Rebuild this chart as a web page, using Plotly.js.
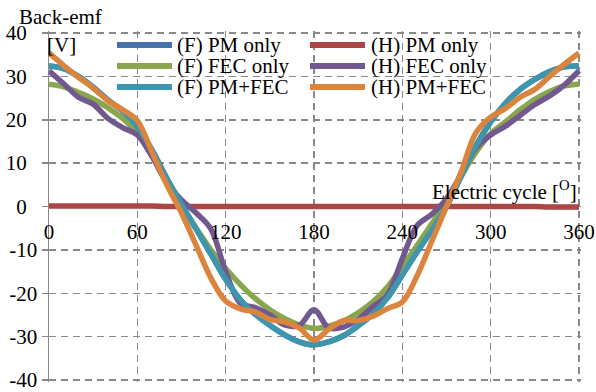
<!DOCTYPE html>
<html>
<head>
<meta charset="utf-8">
<script src="https://cdn.plot.ly/plotly-3.0.1.min.js"></script>
<style>
  html, body { margin: 0; padding: 0; background: #fff; }
  #chart { width: 596px; height: 392px; }
</style>
</head>
<body>
<div id="chart"></div>
<script>
// Electrical angle samples (degrees)
const angle = [0, 10, 20, 30, 40, 50, 60, 70, 80, 90, 100, 110, 120, 130, 140, 150, 160, 170, 180,
               190, 200, 210, 220, 230, 240, 250, 260, 270, 280, 290, 300, 310, 320, 330, 340, 350, 360];

// Back-emf [V] for each configuration
const fPmOnly   = [32.4, 31.8, 30.0, 27.5, 24.6, 22.0, 18.4, 13.0, 6.5, 0.5, -5.2, -11.0, -16.8, -21.5, -24.8, -27.4, -29.6, -31.2, -31.9,
                   -31.2, -29.8, -27.5, -24.8, -21.0, -15.8, -10.5, -5.5, 0.0, 7.0, 14.0, 19.5, 23.8, 27.0, 29.3, 31.1, 32.2, 32.4];
const hPmOnly   = [0.1, 0.1, 0.1, 0.1, 0.1, 0.1, 0.1, 0.1, 0.0, 0.0, 0.0, 0.0, 0.0, 0.0, 0.0, 0.0, 0.0, 0.0, 0.0,
                   0.0, 0.0, 0.0, 0.0, 0.0, 0.0, 0.0, 0.0, 0.0, 0.0, 0.0, 0.0, 0.0, 0.0, 0.0, -0.1, -0.1, -0.1];
const fFecOnly  = [28.2, 27.6, 26.3, 24.8, 22.8, 20.3, 17.0, 11.8, 6.0, 0.0, -5.0, -10.0, -14.3, -18.0, -21.2, -23.8, -25.8, -27.3, -28.1,
                   -27.6, -26.4, -24.5, -22.0, -18.5, -13.8, -9.0, -4.0, 1.2, 7.0, 12.5, 16.8, 19.5, 22.3, 24.7, 26.5, 27.8, 28.2];
const hFecOnly  = [31.3, 28.3, 25.2, 23.6, 20.3, 18.2, 16.5, 11.5, 5.5, 1.5, -1.5, -5.2, -15.0, -22.3, -23.3, -25.0, -27.3, -27.4, -23.8,
                   -28.0, -27.8, -26.0, -23.1, -20.3, -12.0, -4.4, -1.8, 1.8, 7.5, 13.5, 16.5, 18.5, 21.0, 23.5, 25.5, 28.0, 31.3];
const fPmFec    = [32.4, 31.8, 30.0, 27.5, 24.6, 22.0, 18.4, 13.0, 6.5, 0.5, -5.2, -11.0, -16.8, -21.5, -24.8, -27.4, -29.6, -31.2, -31.9,
                   -31.2, -29.8, -27.5, -24.8, -21.0, -15.8, -10.5, -5.5, 0.0, 7.0, 14.0, 19.5, 23.8, 27.0, 29.3, 31.1, 32.2, 32.4];
const hPmFec    = [35.4, 32.5, 29.8, 27.3, 24.4, 22.3, 19.8, 12.5, 5.0, -1.5, -9.0, -16.5, -21.8, -23.6, -24.3, -26.0, -26.6, -28.0, -30.8,
                   -28.3, -26.3, -26.3, -25.3, -23.5, -22.0, -16.0, -8.0, 0.0, 8.0, 17.0, 20.6, 22.6, 25.2, 27.0, 30.0, 32.8, 35.4];

const seriesNames  = ['(F) PM only', '(H) PM only', '(F) FEC only', '(H) FEC only', '(F) PM+FEC', '(H) PM+FEC'];
const seriesValues = [fPmOnly, hPmOnly, fFecOnly, hFecOnly, fPmFec, hPmFec];
const seriesColors = ['#4572A7', '#AA4643', '#89A54E', '#71588F', '#3D96AE', '#DB843D'];

const xTicks = [0, 60, 120, 180, 240, 300, 360];
const xTickText = ['0', '60', '120', '180', '240', '300', '360'];
const yTicks = [-40, -30, -20, -10, 0, 10, 20, 30, 40];
// non-negative labels carry a trailing pad, like an accounting number format
const yTickText = ['-40', '-30', '-20', '-10', '0\u00a0\u00a0', '10\u00a0\u00a0', '20\u00a0\u00a0', '30\u00a0\u00a0', '40\u00a0\u00a0'];

const FONT = '"Liberation Serif", "Times New Roman", serif';
const GRID = '#888888';
const DASH = '7px,5px';

const traces = seriesNames.map((name, i) => ({
  x: angle,
  y: seriesValues[i],
  name: name,
  type: 'scatter',
  mode: 'lines',
  line: { color: seriesColors[i], width: 5.5, shape: 'spline', smoothing: 1 },
  showlegend: false,
  hoverinfo: 'skip'
}));

// Dashed frame along the outer gridlines (top, bottom, right)
const frameShapes = [
  { type: 'line', layer: 'below', xref: 'paper', yref: 'y', x0: 0, x1: 1, y0: yTicks[yTicks.length - 1], y1: yTicks[yTicks.length - 1],
    line: { color: GRID, width: 1.5, dash: DASH } },
  { type: 'line', layer: 'below', xref: 'paper', yref: 'y', x0: 0, x1: 1, y0: yTicks[0], y1: yTicks[0],
    line: { color: GRID, width: 1.5, dash: DASH } },
  { type: 'line', layer: 'below', xref: 'x', yref: 'paper', x0: xTicks[xTicks.length - 1], x1: xTicks[xTicks.length - 1], y0: 1, y1: 0,
    line: { color: GRID, width: 1.5, dash: DASH } }
];

// Two-column key: line swatch + label per series
const keyShapes = [];
const keyLabels = [];
const colX = [[0.1278, 0.2312, 0.2368], [0.4906, 0.5940, 0.6015]];
const rowY = [0.9601, 0.9003, 0.8405];
seriesNames.forEach((name, i) => {
  const c = colX[i % 2];
  const r = rowY[Math.floor(i / 2)];
  keyShapes.push({
    type: 'line', xref: 'paper', yref: 'paper',
    x0: c[0], x1: c[1], y0: r, y1: r,
    line: { color: seriesColors[i], width: 6 }
  });
  keyLabels.push({
    xref: 'paper', yref: 'paper', x: c[2], y: r,
    xanchor: 'left', yanchor: 'middle', showarrow: false,
    text: name, font: { family: FONT, size: 21, color: '#000' }
  });
});

const layout = {
  width: 596,
  height: 392,
  margin: { l: 49, r: 15, t: 31, b: 10 },
  paper_bgcolor: '#fff',
  plot_bgcolor: 'rgba(0,0,0,0)',
  font: { family: FONT, size: 21, color: '#000' },
  showlegend: false,
  xaxis: {
    range: [0, 361.36],
    anchor: 'free',
    position: 0.5,
    tickvals: xTicks,
    ticktext: xTickText,
    ticks: '',
    ticklabelstandoff: 10,
    ticklabeloverflow: 'allow',
    showline: false,
    zeroline: false,
    showgrid: true,
    gridcolor: GRID,
    gridwidth: 1.5,
    griddash: DASH,
    tickfont: { family: FONT, size: 21, color: '#000' }
  },
  yaxis: {
    range: [-40.46, 40.46],
    tickvals: yTicks,
    ticktext: yTickText,
    ticks: 'outside',
    ticklen: 6,
    tickwidth: 1.5,
    tickcolor: GRID,
    ticklabeloverflow: 'allow',
    showline: true,
    linecolor: GRID,
    linewidth: 1.5,
    zeroline: false,
    showgrid: true,
    gridcolor: GRID,
    gridwidth: 1.5,
    griddash: DASH,
    tickfont: { family: FONT, size: 21, color: '#000' }
  },
  shapes: frameShapes.concat(keyShapes),
  annotations: [
    {
      xref: 'paper', yref: 'paper', x: -0.0602, y: 1.0399,
      xanchor: 'left', yanchor: 'middle', showarrow: false,
      text: 'Back-emf', font: { family: FONT, size: 21, color: '#000' }
    },
    {
      xref: 'paper', yref: 'paper', x: -0.0075, y: 0.9601,
      xanchor: 'left', yanchor: 'middle', showarrow: false,
      text: '[V]', font: { family: FONT, size: 21, color: '#000' }
    },
    {
      xref: 'x', yref: 'y', x: 360, y: 0,
      xanchor: 'right', yanchor: 'bottom', showarrow: false, yshift: 1,
      text: 'Electric cycle [<sup>O</sup>]', font: { family: FONT, size: 21, color: '#000' }
    }
  ].concat(keyLabels)
};

Plotly.newPlot('chart', traces, layout, { displayModeBar: false, staticPlot: true });
</script>
</body>
</html>
